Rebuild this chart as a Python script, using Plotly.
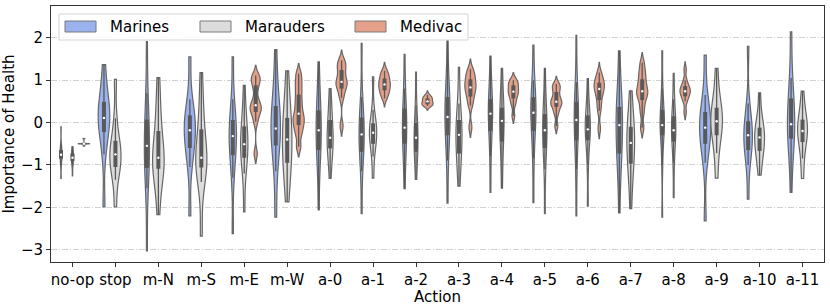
import numpy as np
import plotly.graph_objects as go

# ---------------- data ----------------
categories = ["no-op", "stop", "m-N", "m-S", "m-E", "m-W",
              "a-0", "a-1", "a-2", "a-3", "a-4", "a-5",
              "a-6", "a-7", "a-8", "a-9", "a-10", "a-11"]
hue_names = ["Marines", "Marauders", "Medivac"]
y_ticks = [-3, -2, -1, 0, 1, 2]

# representative samples (deciles), one list per action
marines = [
    [-1.32, -1.0, -0.88, -0.82, -0.79, -0.76, -0.72, -0.67, -0.63, -0.5, -0.10],
    [-1.99, -0.75, -0.35, -0.10, 0.03, 0.11, 0.22, 0.40, 0.58, 0.85, 1.37],
    [-3.03, -1.55, -1.20, -0.94, -0.72, -0.55, -0.35, -0.08, 0.22, 0.70, 1.91],
    [-2.20, -1.05, -0.70, -0.50, -0.32, -0.18, -0.05, 0.10, 0.24, 0.55, 1.55],
    [-2.62, -1.30, -0.90, -0.64, -0.46, -0.32, -0.18, -0.04, 0.16, 0.55, 1.55],
    [-2.23, -1.15, -0.70, -0.38, -0.25, -0.14, 0.02, 0.25, 0.53, 0.90, 1.72],
    [-2.06, -1.10, -0.78, -0.52, -0.33, -0.18, -0.02, 0.18, 0.40, 0.72, 1.43],
    [-2.15, -1.15, -0.82, -0.56, -0.40, -0.28, -0.14, 0.02, 0.22, 0.60, 1.87],
    [-1.56, -0.95, -0.62, -0.38, -0.24, -0.12, 0.02, 0.22, 0.44, 0.80, 1.61],
    [-1.90, -0.90, -0.46, -0.14, 0.00, 0.13, 0.30, 0.50, 0.70, 1.05, 1.93],
    [-1.65, -0.80, -0.35, -0.05, 0.09, 0.21, 0.33, 0.46, 0.64, 0.95, 1.57],
    [-1.89, -0.85, -0.38, -0.02, 0.12, 0.23, 0.36, 0.52, 0.68, 1.00, 1.83],
    [-2.20, -1.10, -0.60, -0.24, -0.08, 0.06, 0.20, 0.40, 0.58, 0.95, 2.06],
    [-2.13, -1.10, -0.85, -0.61, -0.30, -0.06, 0.12, 0.28, 0.46, 0.75, 1.69],
    [-2.23, -1.00, -0.45, -0.15, -0.10, -0.06, 0.05, 0.20, 0.40, 0.80, 1.69],
    [-2.32, -0.95, -0.62, -0.38, -0.24, -0.12, 0.00, 0.16, 0.34, 0.65, 1.59],
    [-1.81, -1.00, -0.74, -0.56, -0.42, -0.30, -0.20, -0.06, 0.12, 0.45, 1.80],
    [-1.65, -0.85, -0.50, -0.26, -0.14, -0.04, 0.15, 0.44, 0.70, 1.05, 2.14],
]
marauders = [
    [-1.26, -1.02, -0.94, -0.88, -0.85, -0.83, -0.80, -0.75, -0.71, -0.65, -0.57],
    [-1.99, -1.35, -1.10, -1.00, -0.88, -0.75, -0.62, -0.52, -0.34, 0.10, 1.02],
    [-2.17, -1.40, -1.15, -1.03, -0.93, -0.83, -0.70, -0.40, 0.00, 0.40, 1.06],
    [-2.68, -1.40, -1.12, -1.00, -0.92, -0.83, -0.68, -0.35, 0.03, 0.45, 1.18],
    [-2.11, -1.20, -0.92, -0.74, -0.62, -0.51, -0.38, -0.20, 0.02, 0.30, 0.88],
    [-1.87, -1.28, -1.05, -0.85, -0.62, -0.40, -0.20, 0.00, 0.22, 0.55, 1.22],
    [-1.32, -0.88, -0.68, -0.54, -0.45, -0.36, -0.24, -0.06, 0.18, 0.40, 0.80],
    [-1.31, -0.80, -0.57, -0.43, -0.33, -0.24, -0.15, -0.07, 0.03, 0.30, 1.08],
    [-1.34, -0.95, -0.78, -0.60, -0.47, -0.36, -0.24, -0.10, 0.08, 0.40, 1.19],
    [-1.50, -1.05, -0.85, -0.61, -0.44, -0.29, -0.16, -0.04, 0.16, 0.45, 1.30],
    [-1.55, -0.95, -0.60, -0.30, -0.12, 0.04, 0.14, 0.26, 0.44, 0.75, 1.28],
    [-2.15, -1.10, -0.75, -0.45, -0.30, -0.18, -0.05, 0.12, 0.28, 0.60, 1.28],
    [-1.97, -1.00, -0.55, -0.29, -0.22, -0.16, -0.06, 0.10, 0.24, 0.50, 1.04],
    [-2.03, -1.35, -1.10, -0.84, -0.64, -0.48, -0.33, -0.18, -0.02, 0.25, 0.75],
    [-1.77, -0.95, -0.60, -0.30, -0.24, -0.18, -0.06, 0.06, 0.24, 0.55, 1.16],
    [-1.31, -0.72, -0.42, -0.18, -0.07, 0.03, 0.13, 0.26, 0.44, 0.70, 1.28],
    [-1.24, -0.88, -0.74, -0.60, -0.46, -0.35, -0.26, -0.17, -0.07, 0.15, 0.70],
    [-1.32, -0.85, -0.56, -0.36, -0.27, -0.20, -0.10, 0.01, 0.13, 0.35, 0.74],
]
medivac = [
    [-0.55, -0.51, -0.505, -0.5, -0.5, -0.5, -0.5, -0.5, -0.495, -0.49, -0.38],
    None,
    None,
    None,
    [-0.73, 0.02, 0.20, 0.30, 0.36, 0.41, 0.55, 0.80, 0.96, 1.04, 1.11],
    [-0.57, -0.28, -0.12, 0.00, 0.10, 0.21, 0.38, 0.56, 0.76, 0.95, 1.15],
    [-0.08, 0.58, 0.74, 0.86, 0.91, 0.96, 1.05, 1.18, 1.30, 1.38, 1.47],
    [0.57, 0.66, 0.73, 0.79, 0.85, 0.90, 0.95, 1.00, 1.08, 1.15, 1.22],
    [0.39, 0.41, 0.42, 0.44, 0.47, 0.50, 0.53, 0.56, 0.58, 0.61, 0.65],
    [-0.11, 0.40, 0.55, 0.67, 0.76, 0.83, 0.90, 0.97, 1.07, 1.15, 1.26],
    [0.16, 0.42, 0.52, 0.62, 0.68, 0.73, 0.78, 0.84, 0.92, 0.96, 1.00],
    [-0.08, 0.20, 0.32, 0.42, 0.46, 0.49, 0.56, 0.66, 0.78, 0.85, 0.91],
    [-0.14, 0.28, 0.45, 0.61, 0.71, 0.79, 0.85, 0.91, 0.97, 1.06, 1.18],
    [-0.12, 0.24, 0.45, 0.61, 0.68, 0.74, 0.84, 0.95, 1.09, 1.22, 1.41],
    [0.25, 0.50, 0.58, 0.66, 0.70, 0.74, 0.78, 0.83, 0.89, 1.00, 1.25],
    None,
    None,
    None,
]

# ---------------- styles ----------------
fill_colors = ["#9ab3ee", "#dcdcdc", "#e5a089"]
edge_color = "#666666"
box_color = "#595959"
# maximum violin width (in category units), per hue and action
marines_width = [0.05, 0.27, 0.12, 0.26, 0.17, 0.22, 0.12, 0.12, 0.10,
                 0.12, 0.10, 0.12, 0.10, 0.15, 0.10, 0.26, 0.20, 0.17]
marauders_width = [0.05, 0.26, 0.27, 0.26, 0.17, 0.22, 0.14, 0.17, 0.09,
                   0.14, 0.10, 0.10, 0.12, 0.18, 0.10, 0.27, 0.23, 0.23]
medivac_width = [0.27, 0, 0, 0, 0.26, 0.26, 0.26, 0.27, 0.26,
                 0.26, 0.24, 0.26, 0.24, 0.26, 0.24, 0, 0, 0]
# kernel bandwidths (None = plotly default) and span modes per hue
medivac_bw = [0.004, None, None, None, 0.12, 0.12, 0.12, 0.10, 0.05,
              0.12, 0.09, 0.09, 0.12, 0.12, 0.09, None, None, None]
none_bw = [None] * len(categories)
span_modes = ["hard", "hard", "soft"]
group_width = 0.8
FONT = "DejaVu Sans"
FS = 15

series = [marines, marauders, medivac]
widths = [marines_width, marauders_width, medivac_width]
bws = [none_bw, none_bw, medivac_bw]
n_hue = len(hue_names)
slot = group_width / n_hue

fig = go.Figure()
box_x, box_y, wh_x, wh_y, med_x, med_y = [], [], [], [], [], []

for h, (name, data, wlist, bwlist) in enumerate(zip(hue_names, series, widths, bws)):
    offset = (h - (n_hue - 1) / 2) * slot
    for i, cat in enumerate(categories):
        vals = data[i]
        if vals is None:
            continue
        v = np.array(vals, dtype=float)
        pos = i + offset
        kw = {}
        if bwlist[i] is not None:
            kw["bandwidth"] = bwlist[i]
        fig.add_trace(go.Violin(
            y=v, x0=pos, name=name, legendgroup=name, showlegend=False,
            scalegroup=f"{name}-{cat}", scalemode="width",
            width=wlist[i], spanmode=span_modes[h], points=False,
            fillcolor=fill_colors[h], line=dict(color=edge_color, width=1.2),
            opacity=1, hoverinfo="skip", **kw,
        ))
        q1, med, q3 = np.percentile(v, [25, 50, 75])
        iqr = q3 - q1
        lo = v[v >= q1 - 1.5 * iqr].min()
        hi = v[v <= q3 + 1.5 * iqr].max()
        wh_x += [pos, pos, None]
        wh_y += [lo, hi, None]
        box_x += [pos, pos, None]
        box_y += [q1, q3, None]
        med_x.append(pos)
        med_y.append(med)

fig.add_trace(go.Scatter(x=wh_x, y=wh_y, mode="lines", showlegend=False,
                         line=dict(color=box_color, width=1.3), hoverinfo="skip"))
fig.add_trace(go.Scatter(x=box_x, y=box_y, mode="lines", showlegend=False,
                         line=dict(color=box_color, width=4), hoverinfo="skip"))
fig.add_trace(go.Scatter(x=med_x, y=med_y, mode="markers", showlegend=False,
                         marker=dict(color="white", size=2.4, line=dict(width=0)),
                         hoverinfo="skip"))

# ---------------- legend (matplotlib-style patches, drawn in paper space) ----------------
L, R, T, B = 51, 824, 6, 262          # plot-area pixel box (from margins)
def px(xp):
    return (xp - L) / (R - L)
def py(yp):
    return (B - yp) / (B - T)

shapes = [dict(type="rect", xref="paper", yref="paper", layer="above",
               x0=px(59), x1=px(468), y0=py(40), y1=py(14),
               fillcolor="rgba(255,255,255,0.85)", line=dict(color="#d4d4d4", width=1))]
annotations = []
patch_left = [65, 200, 355]
for h, name in enumerate(hue_names):
    x0 = patch_left[h]
    shapes.append(dict(type="rect", xref="paper", yref="paper", layer="above",
                       x0=px(x0), x1=px(x0 + 31), y0=py(32), y1=py(21),
                       fillcolor=fill_colors[h], line=dict(color="#7a7a7a", width=1)))
    annotations.append(dict(text=name, xref="paper", yref="paper", x=px(x0 + 43), y=py(26.5),
                            xanchor="left", yanchor="middle", showarrow=False,
                            font=dict(family=FONT, size=FS, color="black")))

axis_common = dict(showline=True, linecolor="#333333", linewidth=1, mirror=True,
                   ticks="outside", ticklen=4, tickcolor="#333333", automargin=False,
                   tickfont=dict(family=FONT, size=FS, color="black"), zeroline=False)

fig.update_layout(
    width=830, height=306,
    margin=dict(l=L, r=830 - R, t=T, b=306 - B),
    paper_bgcolor="white", plot_bgcolor="white",
    violinmode="overlay", violingap=0, violingroupgap=0,
    font=dict(family=FONT, size=FS, color="black"),
    showlegend=False,
    xaxis=dict(type="linear", range=[-0.5, len(categories) - 0.5],
               tickvals=list(range(len(categories))), ticktext=categories,
               showgrid=False,
               title=dict(text="Action", font=dict(family=FONT, size=FS), standoff=0),
               **axis_common),
    yaxis=dict(range=[-3.29, 2.75], tickvals=y_ticks,
               showgrid=True, gridcolor="#d2d2d2", gridwidth=1, griddash="6px,2px,1px,2px",
               title=dict(text="Importance of Health", font=dict(family=FONT, size=FS), standoff=6),
               **axis_common),
    shapes=shapes,
    annotations=annotations,
)

fig.write_html("out.html", config={"displayModeBar": False},
               post_script="document.body.style.margin='0';")
